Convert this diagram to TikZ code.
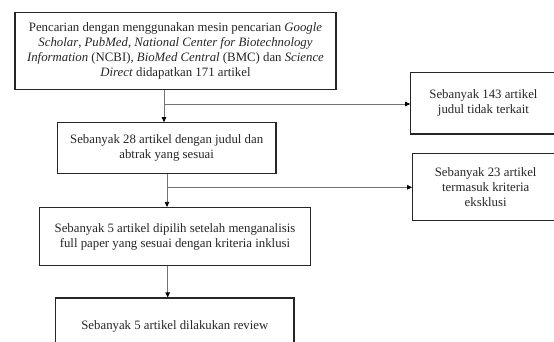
\documentclass[tikz,border=0pt]{standalone}
\usepackage{fontspec}
\setmainfont{Liberation Serif}
\usetikzlibrary{arrows.meta}
\begin{document}
\begin{tikzpicture}[x=1pt,y=-1pt,
  boxtext/.style={inner sep=0pt, align=center, text=black!85,
    font=\fontsize{12.8}{15}\selectfont},
  box/.style={boxtext, draw=black!85, line width=1.1pt},
  frame/.style={draw=black!85, line width=1.1pt, inner sep=0pt},
  conn/.style={draw=black!55, line width=0.7pt},
  arr/.style={conn, -{Triangle[length=5pt,width=4.5pt,fill=black,color=black]}}]
\useasboundingbox (0,0) rectangle (554,342);
\clip (0,0) rectangle (554,342);
\fill[white] (0,0) rectangle (554,342);
\node[box, minimum width=321pt, minimum height=76.6pt] (b1) at (175.5,51)
  {Pencarian dengan menggunakan mesin pencarian \textit{Google}\\
   \textit{Scholar}, \textit{PubMed}, \textit{National Center for Biotechnology}\\
   \textit{Information} (NCBI), \textit{BioMed Central} (BMC) dan \textit{Science}\\
   \textit{Direct} didapatkan 171 artikel};
\node[box, minimum width=218.7pt, minimum height=50.6pt] (b2) at (166.65,148)
  {Sebanyak 28 artikel dengan judul dan\\ abtrak yang sesuai};
\node[box, minimum width=271.4pt, minimum height=58.2pt] (b3) at (175,236.6)
  {Sebanyak 5 artikel dipilih setelah menganalisis\\ full paper yang sesuai dengan kriteria inklusi};
\node[box, minimum width=238.3pt, minimum height=56pt] (b4) at (174.85,326)
  {Sebanyak 5 artikel dilakukan review};
\node[frame, minimum width=170pt, minimum height=61.3pt] (r1) at (495.7,103.35) {};
\node[boxtext] (r1t) at (483.45,103.35) {Sebanyak 143 artikel\\ judul tidak terkait};
\node[frame, minimum width=170pt, minimum height=67.4pt] (r2) at (497.7,187) {};
\node[boxtext] (r2t) at (485.7,187) {Sebanyak 23 artikel\\ termasuk kriteria\\ eksklusi};
\coordinate (j1) at (164,104);
\coordinate (j2) at (167,187.3);
\coordinate (j3) at (167.7,280);
\draw[arr] (b1.south -| j1) -- (b2.north -| j1);
\draw[arr] (j1) -- (r1.west |- j1);
\draw[arr] (b2.south -| j2) -- (b3.north -| j2);
\draw[arr] (j2) -- (r2.west |- j2);
\draw[arr] (b3.south -| j3) -- (b4.north -| j3);
\end{tikzpicture}
\end{document}
